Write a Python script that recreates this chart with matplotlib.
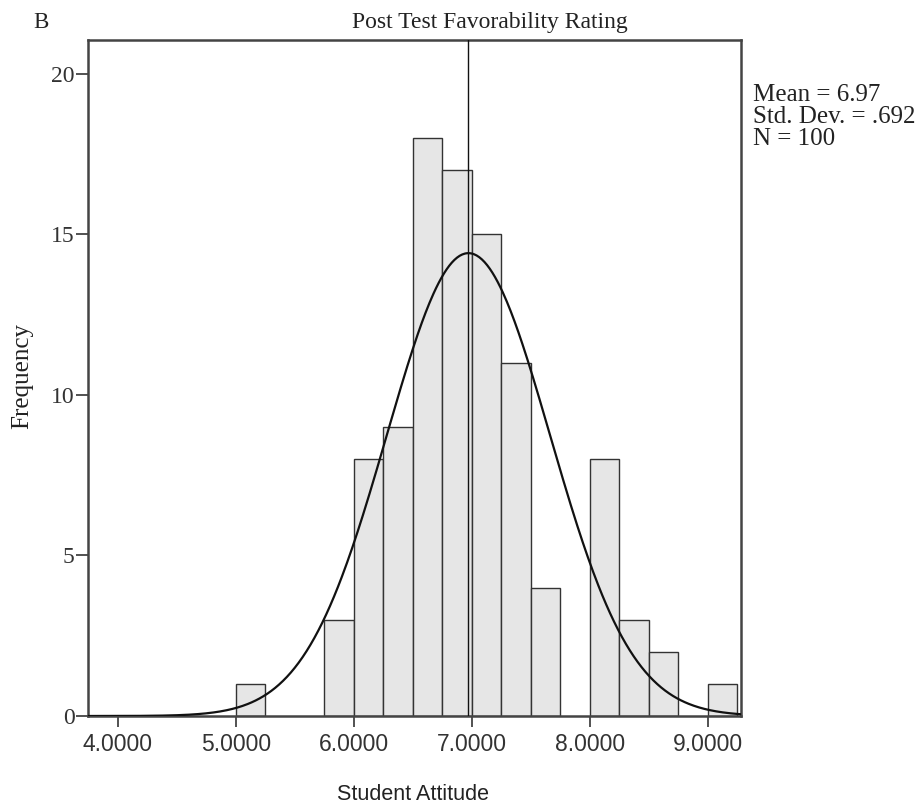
import numpy as np
import matplotlib
matplotlib.use("Agg")
import matplotlib.pyplot as plt
from matplotlib import font_manager

# Data
bin_edges_left = [5.00, 5.75, 6.00, 6.25, 6.50, 6.75, 7.00, 7.25, 7.50, 8.00, 8.25, 8.50, 9.00]
counts = [1, 3, 8, 9, 18, 17, 15, 11, 4, 8, 3, 2, 1]
bin_width = 0.25
mean_val = 6.97
std_val = 0.692
n_val = 100
x_ticks = [4.0, 5.0, 6.0, 7.0, 8.0, 9.0]
x_tick_labels = ["4.0000", "5.0000", "6.0000", "7.0000", "8.0000", "9.0000"]
y_ticks = [0, 5, 10, 15, 20]
stats_lines = ["Mean = 6.97", "Std. Dev. = .692", "N = 100"]

names = {f.name for f in font_manager.fontManager.ttflist}
serif = "Liberation Serif"
sans = "Liberation Sans Narrow" if "Liberation Sans Narrow" in names else "Liberation Sans"
sans_scale = 1.2 if sans == "Liberation Sans Narrow" else 1.0

W, H = 924, 808
fig = plt.figure(figsize=(W/100, H/100), dpi=100)
ax = fig.add_axes([88/W, 1-716/H, (741-88)/W, (716-40)/H])

ax.bar(bin_edges_left, counts, width=bin_width, align="edge",
       color="#e6e6e6", edgecolor="#333333", linewidth=1.0, zorder=2)

xs = np.linspace(3.746, 9.28, 500)
pdf = n_val * bin_width / (std_val * np.sqrt(2*np.pi)) * np.exp(-0.5*((xs-mean_val)/std_val)**2)
ax.plot(xs, pdf, color="#111111", lw=1.6, zorder=3)
ax.axvline(mean_val, color="#111111", lw=1.0, zorder=3)

ax.set_xlim(3.746, 9.28)
ax.set_ylim(0, 21.05)
ax.set_xticks(x_ticks)
ax.set_xticklabels(x_tick_labels, fontfamily=sans, fontsize=16.5*sans_scale, color="#222222")
ax.set_yticks(y_ticks)
ax.set_yticklabels([str(v) for v in y_ticks], fontfamily=serif, fontsize=17, color="#222222")
ax.tick_params(axis="x", direction="out", length=8, width=1.2, colors="#333333", pad=4)
ax.tick_params(axis="y", direction="out", length=9, width=1.2, colors="#333333", pad=0.5)
for s in ax.spines.values():
    s.set_linewidth(1.8)
    s.set_color("#444444")

fig.text(22/W, 1-376/H, "Frequency", fontfamily=serif, fontsize=18, rotation=90,
         ha="center", va="center", color="#222222")
fig.text(413/W, 1-795/H, "Student Attitude", fontfamily=sans, fontsize=15.5*sans_scale,
         ha="center", va="center", color="#222222")
fig.text(490/W, 1-28/H, "Post Test Favorability Rating", fontfamily=serif, fontsize=17,
         ha="center", va="baseline", color="#222222")
fig.text(33/W, 1-28/H, "B", fontfamily=serif, fontsize=16.5, ha="left", va="baseline", color="#222222")
for i, line in enumerate(stats_lines):
    fig.text(753/W, 1-(101 + 22*i)/H, line, fontfamily=serif, fontsize=18,
             ha="left", va="baseline", color="#222222")

fig.savefig("out.png", dpi=100, facecolor="white")
